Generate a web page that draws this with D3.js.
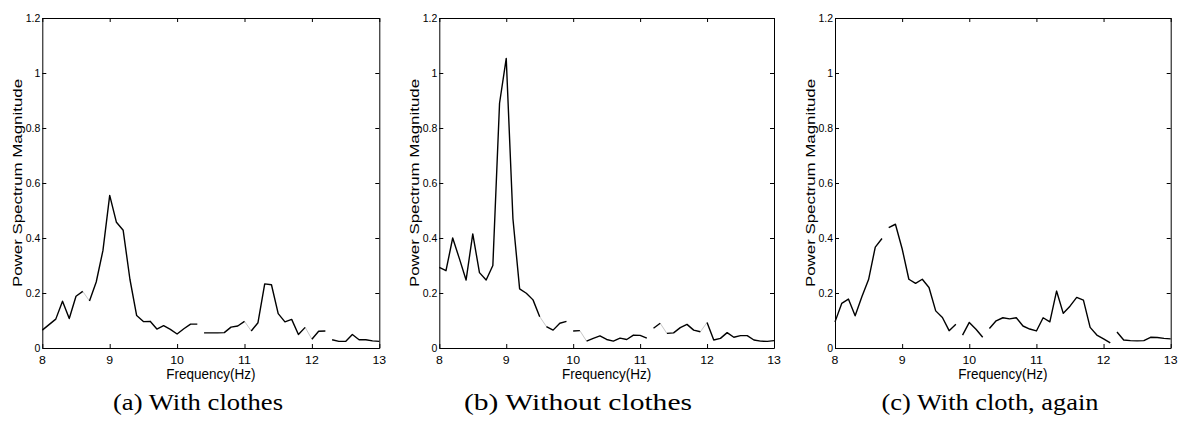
<!DOCTYPE html>
<html><head><meta charset="utf-8">
<script src="https://cdn.jsdelivr.net/npm/d3@7"></script>
<style>body{margin:0;background:#fff}svg{display:block}</style>
</head><body><svg id="chart" width="1178" height="423"></svg>
<script>
// ---- data ----
const freqs = [8.0,8.1,8.2,8.3,8.4,8.5,8.6,8.7,8.8,8.9,9.0,9.1,9.2,9.3,9.4,9.5,9.6,9.7,9.8,9.9,
  10.0,10.1,10.2,10.3,10.4,10.5,10.6,10.7,10.8,10.9,11.0,11.1,11.2,11.3,11.4,11.5,11.6,11.7,11.8,11.9,
  12.0,12.1,12.2,12.3,12.4,12.5,12.6,12.7,12.8,12.9,13.0];
const withClothes = [0.065,0.085,0.105,0.17,0.107,0.188,0.206,0.171,0.24,0.355,
  0.555,0.457,0.428,0.25,0.118,0.096,0.097,0.069,0.081,0.068,
  0.051,0.07,0.087,0.087,0.055,0.055,0.055,0.056,0.076,0.08,
  0.097,0.062,0.092,0.233,0.23,0.125,0.095,0.104,0.049,0.075,
  0.032,0.061,0.062,0.03,0.024,0.024,0.049,0.03,0.03,0.026,0.024];
const withoutClothes = [0.293,0.281,0.40,0.325,0.247,0.415,0.274,0.247,0.30,0.89,
  1.053,0.47,0.215,0.199,0.175,0.114,0.078,0.065,0.09,0.097,
  0.062,0.063,0.025,0.035,0.044,0.031,0.025,0.036,0.031,0.047,
  0.046,0.036,0.072,0.09,0.053,0.055,0.074,0.086,0.065,0.059,
  0.093,0.029,0.035,0.056,0.039,0.045,0.045,0.029,0.025,0.024,0.027];
const withClothAgain = [0.095,0.162,0.178,0.117,0.186,0.249,0.367,0.398,0.438,0.45,
  0.361,0.25,0.235,0.25,0.22,0.135,0.111,0.063,0.086,0.047,
  0.093,0.068,0.039,0.071,0.099,0.11,0.106,0.11,0.08,0.069,
  0.062,0.11,0.095,0.207,0.126,0.152,0.184,0.174,0.075,0.047,
  0.033,0.019,0.058,0.029,0.027,0.026,0.027,0.039,0.038,0.035,0.033];
// frequency after which the connecting segment is missing / faint in the scan
const gapsA = [10.3, 12.2], faintA = [8.6, 11.0, 11.9];
const gapsB = [9.9, 11.1], faintB = [9.5, 10.1, 11.3, 11.9];
const gapsC = [8.7, 9.8, 10.2, 12.1], faintC = [];
const xTicks = [8, 9, 10, 11, 12, 13];
const yTicks = [0, 0.2, 0.4, 0.6, 0.8, 1, 1.2];
const captions = ["(a) With clothes", "(b) Without clothes", "(c) With cloth, again"];
const xLabel = "Frequency(Hz)";
const yLabel = "Power Spectrum Magnitude";

// ---- layout ----
const panels = [
  {x0: 42.3, x1: 379.3, vals: withClothes, gaps: gapsA, faint: faintA, cap: captions[0], capX: 198, capW: 170},
  {x0: 439.3, x1: 774, vals: withoutClothes, gaps: gapsB, faint: faintB, cap: captions[1], capX: 578, capW: 228},
  {x0: 835, x1: 1170.7, vals: withClothAgain, gaps: gapsC, faint: faintC, cap: captions[2], capX: 990, capW: 217}
];
const topY = 18, bottomY = 348;
const svg = d3.select("#chart");
const sans = "Arial, 'Liberation Sans', Helvetica, sans-serif";
const fmt = d => String(d);

panels.forEach(p => {
  const x = d3.scaleLinear().domain([8, 13]).range([p.x0, p.x1]);
  const y = d3.scaleLinear().domain([0, 1.2]).range([bottomY, topY]);
  const g = svg.append("g");
  const tick = 4;
  const axes = [
    [d3.axisBottom(x), `translate(0,${bottomY})`],
    [d3.axisTop(x), `translate(0,${topY})`],
    [d3.axisLeft(y), `translate(${p.x0},0)`],
    [d3.axisRight(y), `translate(${p.x1},0)`]
  ];
  axes.forEach(([ax, tr], i) => {
    ax.tickValues(i < 2 ? xTicks : yTicks).tickSizeInner(-tick).tickSizeOuter(0).tickFormat("");
    const a = g.append("g").attr("transform", tr).call(ax);
    a.select(".domain").attr("stroke", "#000").attr("stroke-width", 1);
    a.selectAll(".tick line").attr("stroke", "#000").attr("stroke-width", 1);
  });
  // tick labels
  g.selectAll(".xl").data(xTicks).join("text")
    .attr("transform", d => `translate(${x(d)},${bottomY + 15.5}) scale(1.12,1)`)
    .attr("text-anchor", "middle").attr("font-family", sans).attr("font-size", 11)
    .text(fmt);
  g.selectAll(".yl").data(yTicks).join("text")
    .attr("transform", d => `translate(${p.x0 - 2},${y(d) + 3.8}) scale(1,1.05)`)
    .attr("text-anchor", "end").attr("font-family", sans).attr("font-size", 10.5)
    .text(fmt);
  // axis labels
  g.append("text")
    .attr("transform", `translate(${(p.x0 + p.x1) / 2},${bottomY + 31}) scale(1,1.1)`)
    .attr("text-anchor", "middle").attr("font-family", sans).attr("font-size", 13.5)
    .text(xLabel);
  g.append("text")
    .attr("transform", `translate(${p.x0 - 20.5},${(topY + bottomY) / 2}) rotate(-90) scale(1.25,1)`)
    .attr("text-anchor", "middle").attr("font-family", sans).attr("font-size", 13.5)
    .text(yLabel);
  // caption
  g.append("text")
    .attr("x", p.capX).attr("y", 410)
    .attr("text-anchor", "middle").attr("font-family", "'Times New Roman', 'Liberation Serif', serif")
    .attr("font-size", 24)
    .attr("textLength", p.capW).attr("lengthAdjust", "spacingAndGlyphs")
    .text(p.cap);
  // data line segments
  const pts = freqs.map((f, i) => ({f, v: p.vals[i]}));
  const line = d3.line().x(d => x(d.f)).y(d => y(d.v));
  let run = [pts[0]];
  const runs = [], faintSegs = [];
  for (let i = 0; i < pts.length - 1; i++) {
    const f = pts[i].f;
    const isGap = p.gaps.some(q => Math.abs(q - f) < 1e-6);
    const isFaint = p.faint.some(q => Math.abs(q - f) < 1e-6);
    if (isGap || isFaint) {
      if (run.length > 1) runs.push(run);
      if (isFaint) faintSegs.push([pts[i], pts[i + 1]]);
      run = [pts[i + 1]];
    } else run.push(pts[i + 1]);
  }
  if (run.length > 1) runs.push(run);
  g.selectAll(".faint").data(faintSegs).join("path")
    .attr("d", line).attr("fill", "none").attr("stroke", "#b8b8b8").attr("stroke-width", 0.8);
  g.selectAll(".run").data(runs).join("path")
    .attr("d", line).attr("fill", "none").attr("stroke", "#000").attr("stroke-width", 1.4)
    .attr("stroke-linejoin", "round");
});
</script></body></html>
